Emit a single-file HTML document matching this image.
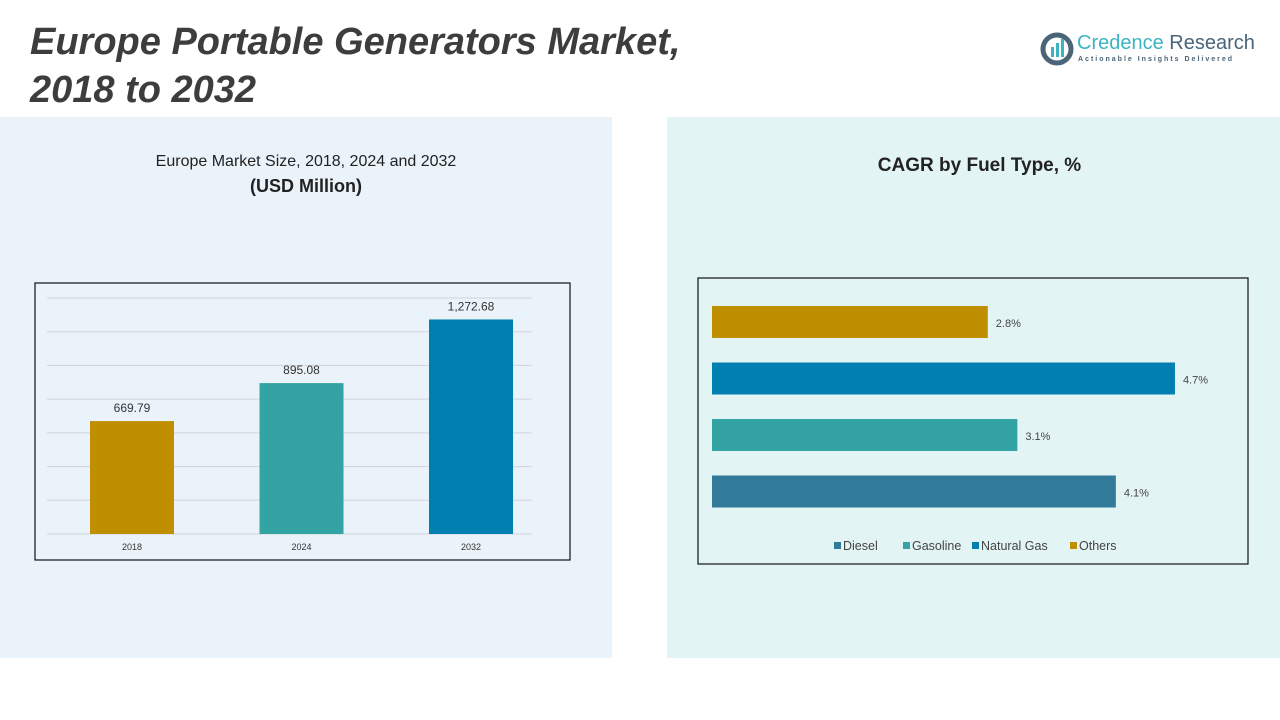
<!DOCTYPE html>
<html><head><meta charset="utf-8"><style>
body{margin:0;width:1280px;height:720px;background:#fff;font-family:"Liberation Sans",sans-serif;position:relative;overflow:hidden}
.abs{position:absolute}
</style></head><body>
<div class="abs" style="left:0;top:117px;width:612px;height:541px;background:#eaf3f9"></div>
<div class="abs" style="left:667px;top:117px;width:613px;height:541px;background:#e3f4f4"></div>
<div class="abs" style="left:30px;top:18px;font-size:38px;font-weight:bold;font-style:italic;color:#3d3d3d;line-height:48px">Europe Portable Generators Market,<br>2018 to 2032</div>
<div class="abs" style="left:1040px;top:30px;width:215px;height:40px">
<svg width="34" height="34" style="position:absolute;left:0;top:2px"><circle cx="17" cy="17" r="14" fill="none" stroke="#4a6478" stroke-width="5"/><rect x="11" y="15" width="3" height="10" fill="#3bb3c3"/><rect x="16" y="11" width="3" height="14" fill="#3bb3c3"/><rect x="21" y="7" width="3" height="18" fill="#3bb3c3"/></svg>
<div class="abs" style="left:37px;top:2px;font-size:20px;color:#3bb3c3;white-space:nowrap">Credence <span style="color:#4a6478">Research</span></div>
<div class="abs" style="left:38px;top:26px;font-size:7px;letter-spacing:2px;color:#4a6478;white-space:nowrap;font-weight:bold">Actionable Insights Delivered</div>
</div>
<div class="abs" style="left:0;width:612px;top:153px;text-align:center;font-size:16px;color:#222">Europe Market Size, 2018, 2024 and 2032<br><b style="font-size:18px;line-height:30px">(USD Million)</b></div>
<div class="abs" style="left:667px;width:613px;top:155px;text-align:center;font-size:19px;font-weight:bold;color:#222;margin-left:6px">CAGR by Fuel Type, %</div>
<svg class="abs" style="left:0;top:0" width="1280" height="720" id="svg">
<rect x="35" y="283" width="535" height="277" fill="none" stroke="#111" stroke-width="1.2"/>
<rect x="698" y="278" width="550" height="286" fill="none" stroke="#111" stroke-width="1.2"/>
<g id="left"></g><g id="right"></g>
</svg>
<script>
const years=["2018","2024","2032"];
const sizes=[669.79,895.08,1272.68];
const sizeLabels=["669.79","895.08","1,272.68"];
const fuels=["Others","Natural Gas","Gasoline","Diesel"];
const cagr=[2.8,4.7,3.1,4.1];
const legendOrder=["Diesel","Gasoline","Natural Gas","Others"];
const colors={"2018":"#bf8f00","2024":"#33a3a3","2032":"#0080b0","Others":"#bf8f00","Natural Gas":"#0080b0","Gasoline":"#33a3a3","Diesel":"#317a9a"};
const NS="http://www.w3.org/2000/svg";
function mk(t,a,p){const e=document.createElementNS(NS,t);for(const k in a)e.setAttribute(k,a[k]);p.appendChild(e);return e;}
const L=document.getElementById('left'),R=document.getElementById('right');
const yMax=1400,y0=534,yTop=298;
const y=v=>y0-(v/yMax)*(y0-yTop);
for(let g=0;g<=yMax;g+=200){const l=mk('line',{x1:47,x2:532,y1:y(g),y2:y(g),stroke:'#d0d4d8','stroke-width':1},L);

}
const x=i=>132+i*169.5;
years.forEach((yr,i)=>{
const r=mk('rect',{x:x(i)-42,y:y(sizes[i]),width:84,height:y0-y(sizes[i]),fill:colors[yr]},L);


const t=mk('text',{x:x(i),y:y(sizes[i])-9,'text-anchor':'middle','font-size':12,fill:'#333'},L);t.textContent=sizeLabels[i];


const a=mk('text',{x:x(i),y:550,'text-anchor':'middle','font-size':9,fill:'#333'},L);a.textContent=yr;


});
const xs=v=>712+v*98.5;
fuels.forEach((f,i)=>{
const by=306+i*56.5;
const r=mk('rect',{x:712,y:by,width:xs(cagr[i])-712,height:32,fill:colors[f]},R);


const t=mk('text',{x:xs(cagr[i])+8,y:by+21,'font-size':11,fill:'#444'},R);t.textContent=cagr[i]+'%';


});
const lx=[834,903,972,1070];
legendOrder.forEach((f,i)=>{
const s=mk('rect',{x:lx[i],y:542,width:7,height:7,fill:colors[f]},R);


const t=mk('text',{x:lx[i]+9,y:550,'font-size':12.5,fill:'#444'},R);t.textContent=f;


});
</script>
</body></html>
